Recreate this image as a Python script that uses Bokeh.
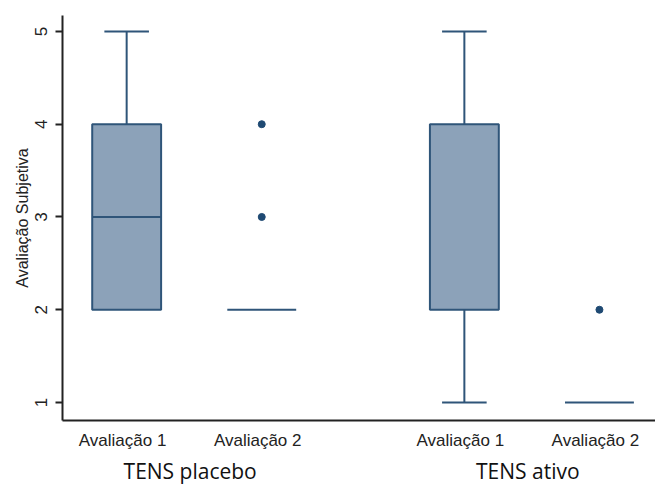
from bokeh.plotting import figure
from bokeh.models import FactorRange, Range1d, FixedTicker
from bokeh.embed import file_html
from bokeh.resources import INLINE

# Box-plot summaries per treatment group and assessment
groups = ["TENS placebo", "TENS placebo", "TENS ativo", "TENS ativo"]
sessions = ["Avaliação 1", "Avaliação 2", "Avaliação 1", "Avaliação 2"]
lower = [2, 2, 1, 1]
q1 = [2, 2, 2, 1]
median = [3, 2, 2, 1]
q3 = [4, 2, 4, 1]
upper = [5, 2, 5, 1]

# Outlying observations
out_groups = ["TENS placebo", "TENS placebo", "TENS ativo"]
out_sessions = ["Avaliação 2", "Avaliação 2", "Avaliação 2"]
out_values = [4, 3, 2]

y_ticks = [1, 2, 3, 4, 5]

FILL = "#8ca2b9"
EDGE = "#2f5579"
DOT = "#1f4a73"
BOX_W = 0.51
CAP_W = 0.33
SHIFT = 0.03  # nudge the glyphs slightly right of the category centre

factors = list(zip(groups, sessions))


def at(g, s, dx=0.0):
    return (g, s, SHIFT + dx)


p = figure(
    width=655, height=487,
    x_range=FactorRange(*factors, group_padding=0.5,
                        range_padding=-0.055, range_padding_units="absolute"),
    y_range=Range1d(0.806, 5.172),
    output_backend="svg", toolbar_location=None,
    min_border_left=62, min_border_right=0, min_border_top=15, min_border_bottom=66,
)

# Boxes (only where the interquartile range is non-zero)
box_x = [at(*f) for f, a, b in zip(factors, q1, q3) if b > a]
box_b = [a for a, b in zip(q1, q3) if b > a]
box_t = [b for a, b in zip(q1, q3) if b > a]
p.vbar(x=box_x, bottom=box_b, top=box_t, width=BOX_W,
       fill_color=FILL, line_color=EDGE, line_width=2)

# Median lines across the full box width (skipped where they sit on a box edge)
mx0, mx1, my = [], [], []
for (g, s), a, m, b in zip(factors, q1, median, q3):
    if a < m < b or a == b:
        mx0.append(at(g, s, -BOX_W / 2)); mx1.append(at(g, s, BOX_W / 2)); my.append(m)
p.segment(x0=mx0, y0=my, x1=mx1, y1=my, line_color=EDGE, line_width=2)

# Whiskers and caps
wx, wy0, wy1, cx0, cx1, cy = [], [], [], [], [], []
for (g, s), lo, a, b, hi in zip(factors, lower, q1, q3, upper):
    if hi > b:
        wx.append(at(g, s)); wy0.append(b); wy1.append(hi)
        cx0.append(at(g, s, -CAP_W / 2)); cx1.append(at(g, s, CAP_W / 2)); cy.append(hi)
    if lo < a:
        wx.append(at(g, s)); wy0.append(lo); wy1.append(a)
        cx0.append(at(g, s, -CAP_W / 2)); cx1.append(at(g, s, CAP_W / 2)); cy.append(lo)
p.segment(x0=wx, y0=wy0, x1=wx, y1=wy1, line_color=EDGE, line_width=2)
p.segment(x0=cx0, y0=cy, x1=cx1, y1=cy, line_color=EDGE, line_width=2)

# Outliers
p.scatter(x=[at(g, s) for g, s in zip(out_groups, out_sessions)], y=out_values,
          size=7, marker="circle", fill_color=DOT, line_color=DOT)

# Axes styling
p.xgrid.grid_line_color = None
p.ygrid.grid_line_color = None
p.outline_line_color = None

p.yaxis.ticker = FixedTicker(ticks=y_ticks)
p.yaxis.minor_tick_line_color = None
p.yaxis.major_tick_out = 7
p.yaxis.major_tick_in = 0
p.yaxis.major_tick_line_width = 2
p.yaxis.major_tick_line_color = "#222222"
p.yaxis.axis_line_width = 2
p.yaxis.axis_line_color = "#222222"
p.yaxis.major_label_orientation = "vertical"
p.yaxis.major_label_text_font = "Liberation Sans"
p.yaxis.major_label_text_font_size = "17px"
p.yaxis.major_label_text_color = "#222222"
p.yaxis.major_label_standoff = 8
p.yaxis.axis_label = "Avaliação Subjetiva"
p.yaxis.axis_label_text_font = "Liberation Sans"
p.yaxis.axis_label_text_font_size = "16px"
p.yaxis.axis_label_text_font_style = "normal"
p.yaxis.axis_label_text_color = "#222222"
p.yaxis.axis_label_standoff = 2

p.xaxis.axis_line_width = 2
p.xaxis.axis_line_color = "#222222"
p.xaxis.major_tick_line_color = None
p.xaxis.minor_tick_line_color = None
p.xaxis.major_label_orientation = "horizontal"
p.xaxis.major_label_text_font = "Liberation Sans"
p.xaxis.major_label_text_font_size = "17px"
p.xaxis.major_label_text_color = "#222222"
p.xaxis.major_label_standoff = 4
p.xaxis.group_text_font = "Open Sans"
p.xaxis.group_text_font_size = "21px"
p.xaxis.group_text_font_style = "normal"
p.xaxis.group_text_color = "#111111"
p.xaxis.group_label_orientation = "horizontal"
p.xaxis.separator_line_color = None

open("out.html", "w").write(file_html(p, INLINE))
